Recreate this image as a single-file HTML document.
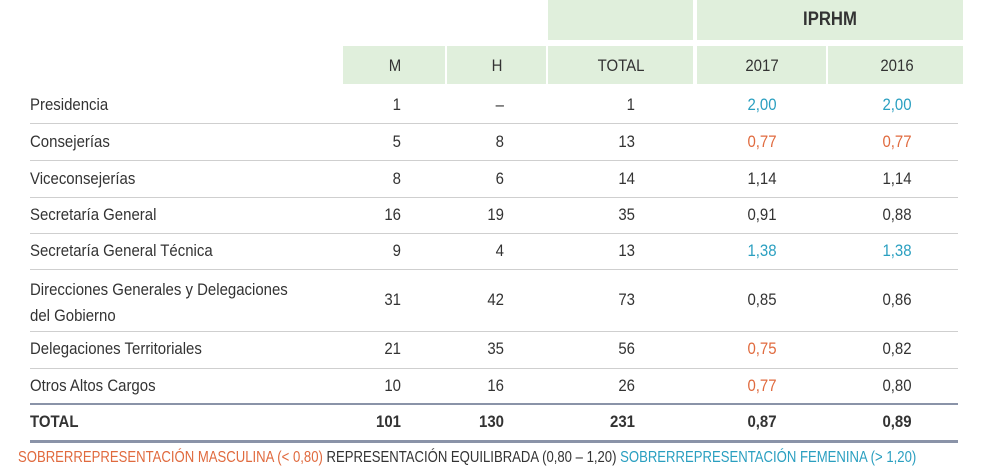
<!DOCTYPE html>
<html><head><meta charset="utf-8"><style>
body{margin:0;width:999px;height:473px;background:#fff;position:relative;overflow:hidden;font-family:"Liberation Sans",sans-serif;color:#333;font-size:17px}
.g{position:absolute;background:#e0efdc}
.t{position:absolute;white-space:nowrap;line-height:20px;transform:scaleX(.88);transform-origin:left center}
.c{transform:translateX(-50%) scaleX(.88);transform-origin:center center}
.r{transform:translateX(-100%) scaleX(.88);transform-origin:right center}
.ln{position:absolute;left:30px;width:928px;height:1px;background:#cfcfcf}
.o{color:#e06a3e}.b{color:#2a9fc0}
</style></head><body>
<div class="g" style="left:548px;top:0;width:145px;height:40px"></div>
<div class="g" style="left:697px;top:0;width:266px;height:40px"></div>
<div class="t c" style="left:830px;top:10px;font-weight:bold;font-size:19px">IPRHM</div>
<div class="g" style="left:343px;top:46px;width:102px;height:38px"></div>
<div class="g" style="left:447px;top:46px;width:99px;height:38px"></div>
<div class="g" style="left:548px;top:46px;width:145px;height:38px"></div>
<div class="g" style="left:697px;top:46px;width:129px;height:38px"></div>
<div class="g" style="left:828px;top:46px;width:135px;height:38px"></div>
<div class="t c" style="left:395px;top:56px">M</div>
<div class="t c" style="left:497px;top:56px">H</div>
<div class="t c" style="left:621px;top:56px">TOTAL</div>
<div class="t c" style="left:762px;top:56px">2017</div>
<div class="t c" style="left:897px;top:56px">2016</div>
<div id="rows"></div>
<div class="ln" style="top:403px;height:2px;background:#8a93a8"></div>
<div class="ln" style="top:440px;height:3px;background:#8a93a8"></div>
<div class="t" style="left:18px;top:448px;font-size:16px;transform:scaleX(.82)"><span class="o">SOBRERREPRESENTACIÓN MASCULINA (&lt; 0,80)</span> REPRESENTACIÓN EQUILIBRADA (0,80 – 1,20) <span class="b">SOBRERREPRESENTACIÓN FEMENINA (&gt; 1,20)</span></div>
<script>
const labels=["Presidencia","Consejerías","Viceconsejerías","Secretaría General","Secretaría General Técnica","Direcciones Generales y Delegaciones<br>del Gobierno","Delegaciones Territoriales","Otros Altos Cargos","TOTAL"];
const m=["1","5","8","16","9","31","21","10","101"];
const h=["–","8","6","19","4","42","35","16","130"];
const tot=["1","13","14","35","13","73","56","26","231"];
const v17=["2,00","0,77","1,14","0,91","1,38","0,85","0,75","0,77","0,87"];
const v16=["2,00","0,77","1,14","0,88","1,38","0,86","0,82","0,80","0,89"];
const ys=[95,132,169,205,241,290,339,376,412];
const lines=[123,160,197,233,269,331,368];
function cls(s){const x=parseFloat(s.replace(',','.'));return x<0.8?'o':x>1.2?'b':'';}
const root=document.getElementById('rows');
let html='';
ys.forEach((y,i)=>{
 const bold=i===8?'font-weight:bold;':'';
 const lh=i===5?'line-height:26px;':'';
 const ly=i===5?y-13:y;
 html+=`<div class="t" style="left:30px;top:${ly}px;${bold}${lh}">${labels[i]}</div>`;
 html+=`<div class="t r" style="left:401px;top:${y}px;${bold}">${m[i]}</div>`;
 html+=`<div class="t r" style="left:504px;top:${y}px;${bold}">${h[i]}</div>`;
 html+=`<div class="t r" style="left:635px;top:${y}px;${bold}">${tot[i]}</div>`;
 html+=`<div class="t c ${i<8?cls(v17[i]):''}" style="left:762px;top:${y}px;${bold}">${v17[i]}</div>`;
 html+=`<div class="t c ${i<8?cls(v16[i]):''}" style="left:897px;top:${y}px;${bold}">${v16[i]}</div>`;
});
lines.forEach(y=>{html+=`<div class="ln" style="top:${y}px"></div>`;});
root.innerHTML=html;
</script>
</body></html>
